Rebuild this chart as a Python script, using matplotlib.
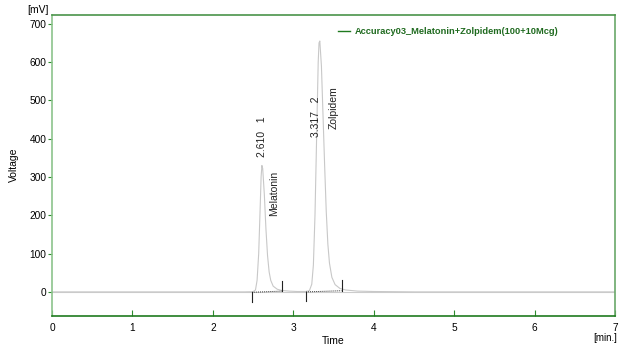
import matplotlib
matplotlib.use('Agg')
import matplotlib.pyplot as plt

plt.rcParams['font.family'] = ['Liberation Sans', 'DejaVu Sans']

# chromatogram points (time in min, voltage in mV)
t = [0.0, 1.0, 2.0, 2.40, 2.50, 2.53, 2.55, 2.57, 2.59, 2.60, 2.61, 2.62, 2.64, 2.66,
     2.68, 2.70, 2.72, 2.75, 2.80, 2.85, 2.95, 3.05, 3.15, 3.20, 3.23, 3.25, 3.27,
     3.29, 3.31, 3.32, 3.33, 3.35, 3.37, 3.39, 3.41, 3.43, 3.45, 3.48, 3.52, 3.58,
     3.65, 3.80, 4.00, 4.50, 5.00, 6.00, 7.00]
v = [0, 0, 0, 0, 0.5, 5, 30, 100, 230, 300, 330, 322, 255, 165,
     95, 52, 30, 15, 7, 4, 2, 1, 1, 3, 20, 70, 200,
     400, 600, 650, 655, 590, 460, 330, 210, 125, 75, 38, 19, 9,
     5, 2, 1, 0, 0, 0, 0]

# integration baselines: (start t, start v, end t, end v)
base_t0 = [2.49, 3.16]
base_v0 = [-1, 0]
base_t1 = [2.86, 3.60]
base_v1 = [2, 3]

peak_labels = ['2.610   1', '3.317   2']
peak_lx = [2.61, 3.28]
peak_ly = [352, 405]
names = ['Melatonin', 'Zolpidem']
name_x = [2.76, 3.50]
name_y = [198, 425]

fig = plt.figure(figsize=(6.34, 3.47), dpi=100)
ax = fig.add_axes([0.082, 0.0893, 0.888, 0.8675])

ax.plot(t, v, color='#c8c8c8', lw=0.8)
ax.axhline(0, color='#cccccc', lw=0.8, zorder=0)

for i in range(2):
    ax.plot([base_t0[i], base_t1[i]], [base_v0[i], base_v1[i]], color='#333333',
            lw=0.7, ls=(0, (1, 1)))
    ax.plot([base_t0[i], base_t0[i]], [base_v0[i], base_v0[i] - 25], color='#222222', lw=0.8)
    ax.plot([base_t1[i], base_t1[i]], [base_v1[i], base_v1[i] + 27], color='#222222', lw=0.8)
    ax.text(peak_lx[i], peak_ly[i], peak_labels[i], rotation=90, ha='center', va='bottom',
            fontsize=7.5, color='#222222')
    ax.text(name_x[i], name_y[i], names[i], rotation=90, ha='center', va='bottom',
            fontsize=7.5, color='#222222')

ax.set_xlim(0, 7)
ax.set_ylim(-63, 723)
ax.set_xticks(range(8))
ax.set_yticks(range(0, 701, 100))
ax.tick_params(axis='x', direction='in', length=4, color='#2e8b2e', labelsize=7.3, pad=5)
ax.tick_params(axis='y', direction='out', length=3, color='#2e8b2e', labelsize=7.3, pad=1)

ax.spines['left'].set_color('#8cc48c')
ax.spines['right'].set_color('#6aa86a')
ax.spines['top'].set_color('#4a944a')
ax.spines['bottom'].set_color('#1f7a1f')
for s in ax.spines.values():
    s.set_linewidth(1.2)

fig.text(14 / 634, 1 - 165 / 347, 'Voltage', rotation=90, ha='center', va='center', fontsize=7.5)
fig.text(38 / 634, 1 - 10 / 347, '[mV]', ha='center', va='center', fontsize=7.5)
fig.text(333 / 634, 1 - 341 / 347, 'Time', ha='center', va='center', fontsize=7.5)
fig.text(605 / 634, 1 - 338 / 347, '[min.]', ha='center', va='center', fontsize=7)

# legend
fig.lines.append(plt.Line2D([338 / 634, 350 / 634], [1 - 31 / 347, 1 - 31 / 347],
                            transform=fig.transFigure, color='#1f7a1f', lw=1))
fig.text(355 / 634, 1 - 31 / 347, 'Accuracy03_Melatonin+Zolpidem(100+10Mcg)', ha='left',
         va='center', fontsize=6.7, fontweight='bold', color='#1f6a1f')

fig.savefig('out.png', dpi=100)
